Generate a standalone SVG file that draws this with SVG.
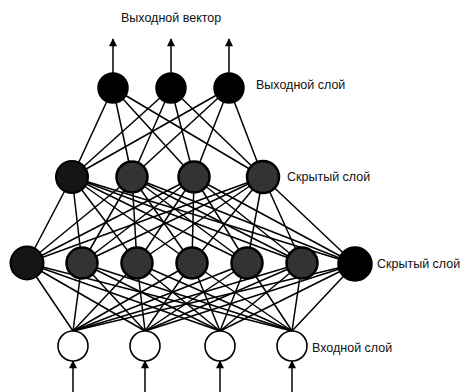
<svg xmlns="http://www.w3.org/2000/svg" width="463" height="392" viewBox="0 0 463 392">
<defs>
<style>
.c line{stroke:#000;stroke-width:1.5}
.a{stroke:#000;stroke-width:1.5;marker-end:url(#ah)}
.t{font-family:"Liberation Sans",Arial,sans-serif;font-size:12.5px;fill:#111}
.out{fill:#000;stroke:#000;stroke-width:1.5}
.hid{fill:#333;stroke:#000;stroke-width:2.5}
.hidd{fill:#151515;stroke:#000;stroke-width:2}
.inp{fill:#fff;stroke:#000;stroke-width:1.6}
</style>
<marker id="ah" viewBox="0 0 10 10" refX="9" refY="5" markerWidth="11" markerHeight="8" markerUnits="userSpaceOnUse" orient="auto"><path d="M0,0L10,5L0,10z" fill="#000"/></marker>
</defs>
<rect width="463" height="392" fill="#fff"/>
<g id="connectors" class="c">
<line x1="73" y1="331" x2="27" y2="263"/><line x1="73" y1="331" x2="82" y2="263"/><line x1="73" y1="331" x2="137" y2="263"/><line x1="73" y1="331" x2="192" y2="263"/><line x1="73" y1="331" x2="247" y2="263"/><line x1="73" y1="331" x2="302" y2="263"/><line x1="73" y1="331" x2="355" y2="264"/>
<line x1="145" y1="331" x2="27" y2="263"/><line x1="145" y1="331" x2="82" y2="263"/><line x1="145" y1="331" x2="137" y2="263"/><line x1="145" y1="331" x2="192" y2="263"/><line x1="145" y1="331" x2="247" y2="263"/><line x1="145" y1="331" x2="302" y2="263"/><line x1="145" y1="331" x2="355" y2="264"/>
<line x1="220" y1="331" x2="27" y2="263"/><line x1="220" y1="331" x2="82" y2="263"/><line x1="220" y1="331" x2="137" y2="263"/><line x1="220" y1="331" x2="192" y2="263"/><line x1="220" y1="331" x2="247" y2="263"/><line x1="220" y1="331" x2="302" y2="263"/><line x1="220" y1="331" x2="355" y2="264"/>
<line x1="292" y1="331" x2="27" y2="263"/><line x1="292" y1="331" x2="82" y2="263"/><line x1="292" y1="331" x2="137" y2="263"/><line x1="292" y1="331" x2="192" y2="263"/><line x1="292" y1="331" x2="247" y2="263"/><line x1="292" y1="331" x2="302" y2="263"/><line x1="292" y1="331" x2="355" y2="264"/>
<line x1="27" y1="263" x2="72" y2="177"/><line x1="27" y1="263" x2="132" y2="177"/><line x1="27" y1="263" x2="194" y2="177"/><line x1="27" y1="263" x2="263" y2="177"/>
<line x1="82" y1="263" x2="72" y2="177"/><line x1="82" y1="263" x2="132" y2="177"/><line x1="82" y1="263" x2="194" y2="177"/><line x1="82" y1="263" x2="263" y2="177"/>
<line x1="137" y1="263" x2="72" y2="177"/><line x1="137" y1="263" x2="132" y2="177"/><line x1="137" y1="263" x2="194" y2="177"/><line x1="137" y1="263" x2="263" y2="177"/>
<line x1="192" y1="263" x2="72" y2="177"/><line x1="192" y1="263" x2="132" y2="177"/><line x1="192" y1="263" x2="194" y2="177"/><line x1="192" y1="263" x2="263" y2="177"/>
<line x1="247" y1="263" x2="72" y2="177"/><line x1="247" y1="263" x2="132" y2="177"/><line x1="247" y1="263" x2="194" y2="177"/><line x1="247" y1="263" x2="263" y2="177"/>
<line x1="302" y1="263" x2="72" y2="177"/><line x1="302" y1="263" x2="132" y2="177"/><line x1="302" y1="263" x2="194" y2="177"/><line x1="302" y1="263" x2="263" y2="177"/>
<line x1="355" y1="264" x2="72" y2="177"/><line x1="355" y1="264" x2="132" y2="177"/><line x1="355" y1="264" x2="194" y2="177"/><line x1="355" y1="264" x2="263" y2="177"/>
<line x1="72" y1="177" x2="113" y2="88"/><line x1="72" y1="177" x2="171" y2="88"/><line x1="72" y1="177" x2="229" y2="88"/>
<line x1="132" y1="177" x2="113" y2="88"/><line x1="132" y1="177" x2="171" y2="88"/><line x1="132" y1="177" x2="229" y2="88"/>
<line x1="194" y1="177" x2="113" y2="88"/><line x1="194" y1="177" x2="171" y2="88"/><line x1="194" y1="177" x2="229" y2="88"/>
<line x1="263" y1="177" x2="113" y2="88"/><line x1="263" y1="177" x2="171" y2="88"/><line x1="263" y1="177" x2="229" y2="88"/>
<line class="a" x1="113" y1="73" x2="113" y2="39"/>
<line class="a" x1="171" y1="73" x2="171" y2="39"/>
<line class="a" x1="229" y1="73" x2="229" y2="39"/>
<line class="a" x1="73" y1="392" x2="73" y2="361"/>
<line class="a" x1="145" y1="392" x2="145" y2="361"/>
<line class="a" x1="220" y1="392" x2="220" y2="361"/>
<line class="a" x1="292" y1="392" x2="292" y2="361"/>
</g>
<g id="output-layer">
<g id="o1"><circle class="out" cx="113" cy="88" r="15"/></g>
<g id="o2"><circle class="out" cx="171" cy="88" r="15"/></g>
<g id="o3"><circle class="out" cx="229" cy="88" r="15"/></g>
</g>
<g id="hidden2">
<g id="h2-1"><circle class="hidd" cx="72" cy="177" r="16"/></g>
<g id="h2-2"><circle class="hid" cx="132" cy="177" r="15.5"/></g>
<g id="h2-3"><circle class="hid" cx="194" cy="177" r="15.5"/></g>
<g id="h2-4"><circle class="hid" cx="263" cy="177" r="16"/></g>
</g>
<g id="hidden1">
<g id="h1-1"><circle class="hidd" cx="27" cy="263" r="16.5"/></g>
<g id="h1-2"><circle class="hid" cx="82" cy="263" r="15.5"/></g>
<g id="h1-3"><circle class="hid" cx="137" cy="263" r="15.5"/></g>
<g id="h1-4"><circle class="hid" cx="192" cy="263" r="15.5"/></g>
<g id="h1-5"><circle class="hid" cx="247" cy="263" r="15.5"/></g>
<g id="h1-6"><circle class="hid" cx="302" cy="263" r="15.5"/></g>
<g id="h1-7"><circle class="out" cx="355" cy="264" r="17"/></g>
</g>
<g id="input-layer">
<g id="i1"><circle class="inp" cx="73" cy="346" r="15"/></g>
<g id="i2"><circle class="inp" cx="145" cy="346" r="15"/></g>
<g id="i3"><circle class="inp" cx="220" cy="346" r="15"/></g>
<g id="i4"><circle class="inp" cx="292" cy="346" r="15"/></g>
</g>
<g id="labels">
<text class="t" x="121" y="22">Выходной вектор</text>
<text class="t" x="256" y="89">Выходной слой</text>
<text class="t" x="287" y="181">Скрытый слой</text>
<text class="t" x="377" y="268">Скрытый слой</text>
<text class="t" x="312" y="352">Входной слой</text>
</g>
</svg>
